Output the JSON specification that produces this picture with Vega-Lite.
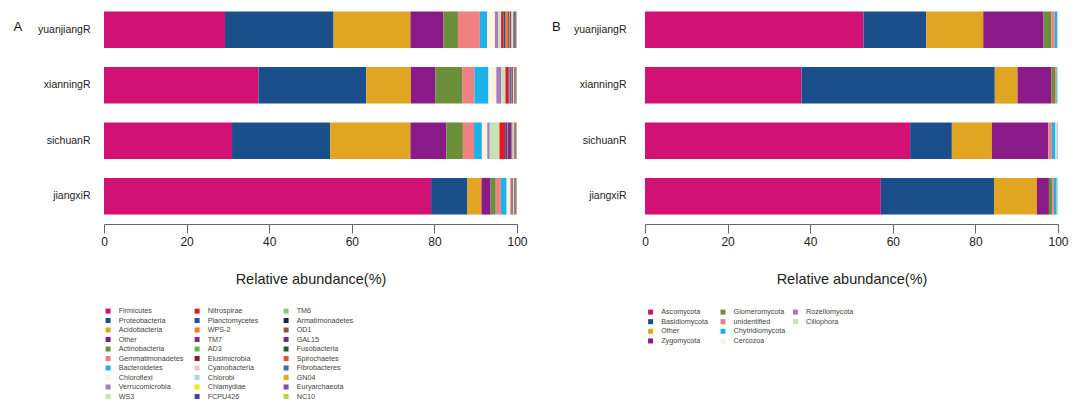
{
  "$schema": "https://vega.github.io/schema/vega-lite/v6.json",
  "background": "white",
  "padding": {"left": 13, "top": 2, "right": 5, "bottom": 0},
  "autosize": {"type": "pad"},
  "bounds": "flush",
  "spacing": 128,
  "config": {
    "font": "Liberation Sans",
    "view": {"stroke": null},
    "axisX": {
      "grid": false, "domainColor": "#666", "tickColor": "#666", "tickSize": 9, "labelFlush": false,
      "labelFontSize": 12, "labelColor": "#222", "labelPadding": 3,
      "titleFontSize": 14.5, "titleFontWeight": "normal", "titleColor": "#222", "titlePadding": 25
    },
    "axisY": {
      "domain": false, "ticks": false, "labelFontSize": 10.5, "labelColor": "#222",
      "titleAngle": 0, "titleAlign": "left", "titleBaseline": "alphabetic", "titleFontSize": 13,
      "titleFontWeight": "normal", "titleColor": "#111"
    },
    "legend": {
      "orient": "none", "padding": 0, "columns": 3, "gridAlign": "all", "symbolType": "square",
      "symbolSize": 25, "symbolStrokeWidth": 0, "labelFontSize": 7.2, "labelOffset": 7, "labelColor": "#444"
    }
  },
  "datasets": {
    "bacteria": [
      {"sample":"yuanjiangR","taxon":"Firmicutes","rank":1,"value":29.3},
      {"sample":"yuanjiangR","taxon":"Proteobacteria","rank":2,"value":26.3},
      {"sample":"yuanjiangR","taxon":"Acidobacteria","rank":3,"value":18.6},
      {"sample":"yuanjiangR","taxon":"Other","rank":4,"value":8.0},
      {"sample":"yuanjiangR","taxon":"Actinobacteria","rank":5,"value":3.5},
      {"sample":"yuanjiangR","taxon":"Gemmatimonadetes","rank":6,"value":5.3},
      {"sample":"yuanjiangR","taxon":"Bacteroidetes","rank":7,"value":1.8},
      {"sample":"yuanjiangR","taxon":"Chloroflexi","rank":8,"value":1.85},
      {"sample":"yuanjiangR","taxon":"Verrucomicrobia","rank":9,"value":0.8},
      {"sample":"yuanjiangR","taxon":"WS3","rank":10,"value":0.7},
      {"sample":"yuanjiangR","taxon":"Nitrospirae","rank":11,"value":0.6},
      {"sample":"yuanjiangR","taxon":"Planctomycetes","rank":12,"value":0.5},
      {"sample":"yuanjiangR","taxon":"WPS-2","rank":13,"value":0.6},
      {"sample":"yuanjiangR","taxon":"TM7","rank":14,"value":0.3},
      {"sample":"yuanjiangR","taxon":"AD3","rank":15,"value":0.2},
      {"sample":"yuanjiangR","taxon":"Elusimicrobia","rank":16,"value":0.3},
      {"sample":"yuanjiangR","taxon":"Cyanobacteria","rank":17,"value":0.2},
      {"sample":"yuanjiangR","taxon":"Chlorobi","rank":18,"value":0.15},
      {"sample":"yuanjiangR","taxon":"Chlamydiae","rank":19,"value":0.1},
      {"sample":"yuanjiangR","taxon":"FCPU426","rank":20,"value":0.15},
      {"sample":"yuanjiangR","taxon":"TM6","rank":21,"value":0.1},
      {"sample":"yuanjiangR","taxon":"Armatimonadetes","rank":22,"value":0.15},
      {"sample":"yuanjiangR","taxon":"OD1","rank":23,"value":0.1},
      {"sample":"yuanjiangR","taxon":"GAL15","rank":24,"value":0.1},
      {"sample":"yuanjiangR","taxon":"Fusobacteria","rank":25,"value":0.05},
      {"sample":"yuanjiangR","taxon":"Spirochaetes","rank":26,"value":0.05},
      {"sample":"yuanjiangR","taxon":"Fibrobacteres","rank":27,"value":0.05},
      {"sample":"yuanjiangR","taxon":"GN04","rank":28,"value":0.05},
      {"sample":"yuanjiangR","taxon":"Euryarchaeota","rank":29,"value":0.05},
      {"sample":"yuanjiangR","taxon":"NC10","rank":30,"value":0.05},

      {"sample":"xianningR","taxon":"Firmicutes","rank":1,"value":37.4},
      {"sample":"xianningR","taxon":"Proteobacteria","rank":2,"value":26.1},
      {"sample":"xianningR","taxon":"Acidobacteria","rank":3,"value":10.8},
      {"sample":"xianningR","taxon":"Other","rank":4,"value":5.9},
      {"sample":"xianningR","taxon":"Actinobacteria","rank":5,"value":6.6},
      {"sample":"xianningR","taxon":"Gemmatimonadetes","rank":6,"value":2.9},
      {"sample":"xianningR","taxon":"Bacteroidetes","rank":7,"value":3.4},
      {"sample":"xianningR","taxon":"Chloroflexi","rank":8,"value":1.9},
      {"sample":"xianningR","taxon":"Verrucomicrobia","rank":9,"value":1.2},
      {"sample":"xianningR","taxon":"WS3","rank":10,"value":1.0},
      {"sample":"xianningR","taxon":"Nitrospirae","rank":11,"value":0.7},
      {"sample":"xianningR","taxon":"Planctomycetes","rank":12,"value":0.3},
      {"sample":"xianningR","taxon":"WPS-2","rank":13,"value":0.15},
      {"sample":"xianningR","taxon":"TM7","rank":14,"value":0.35},
      {"sample":"xianningR","taxon":"AD3","rank":15,"value":0.1},
      {"sample":"xianningR","taxon":"Elusimicrobia","rank":16,"value":0.2},
      {"sample":"xianningR","taxon":"Cyanobacteria","rank":17,"value":0.15},
      {"sample":"xianningR","taxon":"Chlorobi","rank":18,"value":0.1},
      {"sample":"xianningR","taxon":"Chlamydiae","rank":19,"value":0.05},
      {"sample":"xianningR","taxon":"FCPU426","rank":20,"value":0.15},
      {"sample":"xianningR","taxon":"TM6","rank":21,"value":0.05},
      {"sample":"xianningR","taxon":"Armatimonadetes","rank":22,"value":0.05},
      {"sample":"xianningR","taxon":"OD1","rank":23,"value":0.1},
      {"sample":"xianningR","taxon":"GAL15","rank":24,"value":0.05},
      {"sample":"xianningR","taxon":"Fusobacteria","rank":25,"value":0.05},
      {"sample":"xianningR","taxon":"Spirochaetes","rank":26,"value":0.05},
      {"sample":"xianningR","taxon":"Fibrobacteres","rank":27,"value":0.05},
      {"sample":"xianningR","taxon":"GN04","rank":28,"value":0.05},
      {"sample":"xianningR","taxon":"Euryarchaeota","rank":29,"value":0.05},
      {"sample":"xianningR","taxon":"NC10","rank":30,"value":0.05},

      {"sample":"sichuanR","taxon":"Firmicutes","rank":1,"value":31.0},
      {"sample":"sichuanR","taxon":"Proteobacteria","rank":2,"value":23.75},
      {"sample":"sichuanR","taxon":"Acidobacteria","rank":3,"value":19.45},
      {"sample":"sichuanR","taxon":"Other","rank":4,"value":8.7},
      {"sample":"sichuanR","taxon":"Actinobacteria","rank":5,"value":4.0},
      {"sample":"sichuanR","taxon":"Gemmatimonadetes","rank":6,"value":2.7},
      {"sample":"sichuanR","taxon":"Bacteroidetes","rank":7,"value":1.9},
      {"sample":"sichuanR","taxon":"Chloroflexi","rank":8,"value":1.3},
      {"sample":"sichuanR","taxon":"Verrucomicrobia","rank":9,"value":0.6},
      {"sample":"sichuanR","taxon":"WS3","rank":10,"value":2.35},
      {"sample":"sichuanR","taxon":"Nitrospirae","rank":11,"value":1.4},
      {"sample":"sichuanR","taxon":"Planctomycetes","rank":12,"value":0.55},
      {"sample":"sichuanR","taxon":"WPS-2","rank":13,"value":0.1},
      {"sample":"sichuanR","taxon":"TM7","rank":14,"value":0.8},
      {"sample":"sichuanR","taxon":"AD3","rank":15,"value":0.1},
      {"sample":"sichuanR","taxon":"Elusimicrobia","rank":16,"value":0.2},
      {"sample":"sichuanR","taxon":"Cyanobacteria","rank":17,"value":0.2},
      {"sample":"sichuanR","taxon":"Chlorobi","rank":18,"value":0.1},
      {"sample":"sichuanR","taxon":"Chlamydiae","rank":19,"value":0.05},
      {"sample":"sichuanR","taxon":"FCPU426","rank":20,"value":0.1},
      {"sample":"sichuanR","taxon":"TM6","rank":21,"value":0.05},
      {"sample":"sichuanR","taxon":"Armatimonadetes","rank":22,"value":0.05},
      {"sample":"sichuanR","taxon":"OD1","rank":23,"value":0.2},
      {"sample":"sichuanR","taxon":"GAL15","rank":24,"value":0.05},
      {"sample":"sichuanR","taxon":"Fusobacteria","rank":25,"value":0.05},
      {"sample":"sichuanR","taxon":"Spirochaetes","rank":26,"value":0.05},
      {"sample":"sichuanR","taxon":"Fibrobacteres","rank":27,"value":0.05},
      {"sample":"sichuanR","taxon":"GN04","rank":28,"value":0.05},
      {"sample":"sichuanR","taxon":"Euryarchaeota","rank":29,"value":0.05},
      {"sample":"sichuanR","taxon":"NC10","rank":30,"value":0.05},

      {"sample":"jiangxiR","taxon":"Firmicutes","rank":1,"value":79.2},
      {"sample":"jiangxiR","taxon":"Proteobacteria","rank":2,"value":8.8},
      {"sample":"jiangxiR","taxon":"Acidobacteria","rank":3,"value":3.4},
      {"sample":"jiangxiR","taxon":"Other","rank":4,"value":2.2},
      {"sample":"jiangxiR","taxon":"Actinobacteria","rank":5,"value":1.25},
      {"sample":"jiangxiR","taxon":"Gemmatimonadetes","rank":6,"value":1.25},
      {"sample":"jiangxiR","taxon":"Bacteroidetes","rank":7,"value":1.4},
      {"sample":"jiangxiR","taxon":"Chloroflexi","rank":8,"value":0.8},
      {"sample":"jiangxiR","taxon":"Verrucomicrobia","rank":9,"value":0.1},
      {"sample":"jiangxiR","taxon":"WS3","rank":10,"value":0.1},
      {"sample":"jiangxiR","taxon":"Nitrospirae","rank":11,"value":0.15},
      {"sample":"jiangxiR","taxon":"Planctomycetes","rank":12,"value":0.1},
      {"sample":"jiangxiR","taxon":"WPS-2","rank":13,"value":0.05},
      {"sample":"jiangxiR","taxon":"TM7","rank":14,"value":0.1},
      {"sample":"jiangxiR","taxon":"AD3","rank":15,"value":0.05},
      {"sample":"jiangxiR","taxon":"Elusimicrobia","rank":16,"value":0.1},
      {"sample":"jiangxiR","taxon":"Cyanobacteria","rank":17,"value":0.15},
      {"sample":"jiangxiR","taxon":"Chlorobi","rank":18,"value":0.05},
      {"sample":"jiangxiR","taxon":"Chlamydiae","rank":19,"value":0.05},
      {"sample":"jiangxiR","taxon":"FCPU426","rank":20,"value":0.1},
      {"sample":"jiangxiR","taxon":"TM6","rank":21,"value":0.05},
      {"sample":"jiangxiR","taxon":"Armatimonadetes","rank":22,"value":0.1},
      {"sample":"jiangxiR","taxon":"OD1","rank":23,"value":0.1},
      {"sample":"jiangxiR","taxon":"GAL15","rank":24,"value":0.05},
      {"sample":"jiangxiR","taxon":"Fusobacteria","rank":25,"value":0.05},
      {"sample":"jiangxiR","taxon":"Spirochaetes","rank":26,"value":0.05},
      {"sample":"jiangxiR","taxon":"Fibrobacteres","rank":27,"value":0.05},
      {"sample":"jiangxiR","taxon":"GN04","rank":28,"value":0.05},
      {"sample":"jiangxiR","taxon":"Euryarchaeota","rank":29,"value":0.05},
      {"sample":"jiangxiR","taxon":"NC10","rank":30,"value":0.05}
    ],
    "fungi": [
      {"sample":"yuanjiangR","taxon":"Ascomycota","rank":1,"value":52.9},
      {"sample":"yuanjiangR","taxon":"Basidiomycota","rank":2,"value":15.2},
      {"sample":"yuanjiangR","taxon":"Other","rank":3,"value":13.8},
      {"sample":"yuanjiangR","taxon":"Zygomycota","rank":4,"value":14.6},
      {"sample":"yuanjiangR","taxon":"Glomeromycota","rank":5,"value":1.9},
      {"sample":"yuanjiangR","taxon":"unidentified","rank":6,"value":0.8},
      {"sample":"yuanjiangR","taxon":"Chytridiomycota","rank":7,"value":0.6},
      {"sample":"yuanjiangR","taxon":"Cercozoa","rank":8,"value":0.1},
      {"sample":"yuanjiangR","taxon":"Rozellomycota","rank":9,"value":0.05},
      {"sample":"yuanjiangR","taxon":"Ciliophora","rank":10,"value":0.05},

      {"sample":"xianningR","taxon":"Ascomycota","rank":1,"value":37.9},
      {"sample":"xianningR","taxon":"Basidiomycota","rank":2,"value":46.8},
      {"sample":"xianningR","taxon":"Other","rank":3,"value":5.5},
      {"sample":"xianningR","taxon":"Zygomycota","rank":4,"value":8.2},
      {"sample":"xianningR","taxon":"Glomeromycota","rank":5,"value":0.9},
      {"sample":"xianningR","taxon":"unidentified","rank":6,"value":0.3},
      {"sample":"xianningR","taxon":"Chytridiomycota","rank":7,"value":0.2},
      {"sample":"xianningR","taxon":"Cercozoa","rank":8,"value":0.1},
      {"sample":"xianningR","taxon":"Rozellomycota","rank":9,"value":0.05},
      {"sample":"xianningR","taxon":"Ciliophora","rank":10,"value":0.05},

      {"sample":"sichuanR","taxon":"Ascomycota","rank":1,"value":64.2},
      {"sample":"sichuanR","taxon":"Basidiomycota","rank":2,"value":10.1},
      {"sample":"sichuanR","taxon":"Other","rank":3,"value":9.7},
      {"sample":"sichuanR","taxon":"Zygomycota","rank":4,"value":13.6},
      {"sample":"sichuanR","taxon":"Glomeromycota","rank":5,"value":0.1},
      {"sample":"sichuanR","taxon":"unidentified","rank":6,"value":0.8},
      {"sample":"sichuanR","taxon":"Chytridiomycota","rank":7,"value":0.9},
      {"sample":"sichuanR","taxon":"Cercozoa","rank":8,"value":0.3},
      {"sample":"sichuanR","taxon":"Rozellomycota","rank":9,"value":0.2},
      {"sample":"sichuanR","taxon":"Ciliophora","rank":10,"value":0.1},

      {"sample":"jiangxiR","taxon":"Ascomycota","rank":1,"value":57.1},
      {"sample":"jiangxiR","taxon":"Basidiomycota","rank":2,"value":27.4},
      {"sample":"jiangxiR","taxon":"Other","rank":3,"value":10.4},
      {"sample":"jiangxiR","taxon":"Zygomycota","rank":4,"value":2.9},
      {"sample":"jiangxiR","taxon":"Glomeromycota","rank":5,"value":0.8},
      {"sample":"jiangxiR","taxon":"unidentified","rank":6,"value":0.4},
      {"sample":"jiangxiR","taxon":"Chytridiomycota","rank":7,"value":0.7},
      {"sample":"jiangxiR","taxon":"Cercozoa","rank":8,"value":0.1},
      {"sample":"jiangxiR","taxon":"Rozellomycota","rank":9,"value":0.1},
      {"sample":"jiangxiR","taxon":"Ciliophora","rank":10,"value":0.1}
    ]
  },
  "hconcat": [
    {
      "data": {"name": "bacteria"},
      "width": 413,
      "height": 222,
      "mark": {"type": "bar"},
      "encoding": {
        "y": {
          "field": "sample", "type": "nominal",
          "sort": ["yuanjiangR", "xianningR", "sichuanR", "jiangxiR"],
          "scale": {"paddingInner": 0.34, "paddingOuter": 0.17},
          "axis": {"title": "A", "titleX": -91, "titleY": 28, "labelPadding": 14}
        },
        "x": {
          "field": "value", "type": "quantitative", "stack": "zero",
          "scale": {"domain": [0, 100], "nice": false},
          "axis": {"values": [0, 20, 40, 60, 80, 100], "title": "Relative abundance(%)"}
        },
        "order": {"field": "rank", "type": "quantitative"},
        "color": {
          "field": "taxon", "type": "nominal",
          "scale": {
            "domain": ["Firmicutes","Proteobacteria","Acidobacteria","Other","Actinobacteria","Gemmatimonadetes","Bacteroidetes","Chloroflexi","Verrucomicrobia","WS3","Nitrospirae","Planctomycetes","WPS-2","TM7","AD3","Elusimicrobia","Cyanobacteria","Chlorobi","Chlamydiae","FCPU426","TM6","Armatimonadetes","OD1","GAL15","Fusobacteria","Spirochaetes","Fibrobacteres","GN04","Euryarchaeota","NC10"],
            "range": ["#D11173","#1B4F8C","#E0A521","#8B1A89","#6B8E3A","#F08181","#1EB2EB","#FFF3DC","#A47CBF","#C5E3B4","#E8171E","#2A4B9E","#F47A20","#7E2A8E","#5DB846","#8C1A1F","#F6C4C8","#A6D8EE","#F4EA12","#4E3F95","#8BC77A","#1D2244","#8E5B2F","#6B2E8F","#1E5E33","#E5522E","#3B6FB6","#E7A81B","#7B53A0","#B9CF44"]
          },
          "legend": {
            "title": null, "legendX": 0.5, "legendY": 305.4, "columnPadding": 10, "rowPadding": 1.5,
            "values": ["Firmicutes","Proteobacteria","Acidobacteria","Other","Actinobacteria","Gemmatimonadetes","Bacteroidetes","Chloroflexi","Verrucomicrobia","WS3","Nitrospirae","Planctomycetes","WPS-2","TM7","AD3","Elusimicrobia","Cyanobacteria","Chlorobi","Chlamydiae","FCPU426","TM6","Armatimonadetes","OD1","GAL15","Fusobacteria","Spirochaetes","Fibrobacteres","GN04","Euryarchaeota","NC10"]
          }
        }
      }
    },
    {
      "data": {"name": "fungi"},
      "width": 413,
      "height": 222,
      "mark": {"type": "bar"},
      "encoding": {
        "y": {
          "field": "sample", "type": "nominal",
          "sort": ["yuanjiangR", "xianningR", "sichuanR", "jiangxiR"],
          "scale": {"paddingInner": 0.34, "paddingOuter": 0.17},
          "axis": {"title": "B", "titleX": -93.5, "titleY": 28, "labelPadding": 19}
        },
        "x": {
          "field": "value", "type": "quantitative", "stack": "zero",
          "scale": {"domain": [0, 100], "nice": false},
          "axis": {"values": [0, 20, 40, 60, 80, 100], "title": "Relative abundance(%)"}
        },
        "order": {"field": "rank", "type": "quantitative"},
        "color": {
          "field": "taxon", "type": "nominal",
          "scale": {
            "domain": ["Ascomycota","Basidiomycota","Other","Zygomycota","Glomeromycota","unidentified","Chytridiomycota","Cercozoa","Rozellomycota","Ciliophora"," ","  "],
            "range": ["#D11173","#1B4F8C","#E0A521","#8B1A89","#6B8E3A","#F08181","#1EB2EB","#FFF3DC","#A47CBF","#C5E3B4","transparent","transparent"]
          },
          "legend": {
            "title": null, "legendX": 2, "legendY": 306.4, "columnPadding": 6.4, "rowPadding": 1.65,
            "values": ["Ascomycota","Basidiomycota","Other","Zygomycota","Glomeromycota","unidentified","Chytridiomycota","Cercozoa","Rozellomycota","Ciliophora"," ","  "]
          }
        }
      }
    }
  ],
  "resolve": {"scale": {"color": "independent"}, "legend": {"color": "independent"}}
}
